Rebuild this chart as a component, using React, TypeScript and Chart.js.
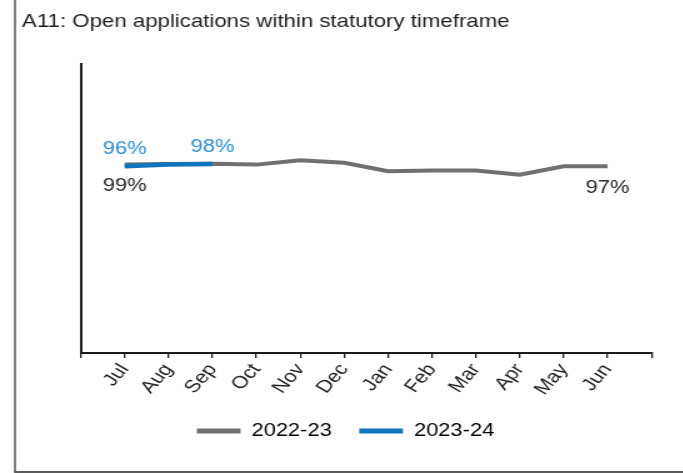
import React, { useEffect, useRef } from "react";
import { Chart, registerables } from "chart.js";

Chart.register(...registerables);

// ---- data ----
const TITLE = "A11: Open applications within statutory timeframe";
const MONTHS = ["Jul", "Aug", "Sep", "Oct", "Nov", "Dec", "Jan", "Feb", "Mar", "Apr", "May", "Jun"];
const SERIES_NAMES = ["2022-23", "2023-24"];
const VALUES_2022_23 = [97.9, 98.2, 98.4, 97.9, 100.2, 98.9, 94.5, 94.8, 94.8, 92.7, 97.0, 97.0];
const VALUES_2023_24 = [97.1, 97.9, 98.2];
const POINT_LABELS_2022_23 = ["99%", "", "", "", "", "", "", "", "", "", "", "97%"];
const POINT_LABELS_2023_24 = ["96%", "", "98%"];
const Y_MIN = 0;
const Y_MAX = 150;

// ---- styles ----
const FONT = "'Liberation Sans', Arial, sans-serif";
const GREY = "#707070";
const BLUE = "#0f75bd";
const TEXT = "#1e1e1e";
const AXIS = "#1c1c1c";
const STRETCH = 1.25;
const W = 546;
const H = 473;

const pad = (arr: (number | null)[]) => {
  const out: (number | null)[] = [null, ...arr];
  while (out.length < MONTHS.length + 1) out.push(null);
  out.push(null);
  return out;
};

const frame = {
  id: "frame",
  afterDraw(chart: any) {
    const ctx = chart.ctx;
    ctx.save();
    ctx.strokeStyle = "#5c5c5c";
    ctx.lineWidth = 1.6;
    ctx.beginPath();
    ctx.moveTo(12, 0);
    ctx.lineTo(12, 472);
    ctx.stroke();
    ctx.lineWidth = 2;
    ctx.beginPath();
    ctx.moveTo(11.2, 472);
    ctx.lineTo(W, 472);
    ctx.stroke();
    ctx.restore();
  },
};

const pointLabels = {
  id: "pointLabels",
  afterDatasetsDraw(chart: any) {
    const ctx = chart.ctx;
    ctx.save();
    ctx.font = `17.5px ${FONT}`;
    ctx.textAlign = "center";
    ctx.textBaseline = "middle";
    chart.data.datasets.forEach((ds: any, i: number) => {
      const meta = chart.getDatasetMeta(i);
      const texts: string[] = ds.pointTexts || [];
      meta.data.forEach((pt: any, j: number) => {
        const t = texts[j - 1];
        if (!t) return;
        ctx.fillStyle = ds.pointTextColor;
        ctx.fillText(t, pt.x, pt.y + ds.pointTextOffset);
      });
    });
    ctx.restore();
  },
};

const shiftLegend = {
  id: "shiftLegend",
  afterLayout(chart: any) {
    const lg = chart.legend;
    if (lg) {
      lg.left += 7;
      lg.right += 7;
    }
  },
};

export default function App() {
  const ref = useRef<HTMLCanvasElement | null>(null);
  useEffect(() => {
    if (!ref.current) return;
    const chart = new Chart(ref.current, {
      type: "line",
      data: {
        labels: ["", ...MONTHS, ""],
        datasets: [
          {
            label: SERIES_NAMES[0],
            data: pad(VALUES_2022_23),
            borderColor: GREY,
            backgroundColor: GREY,
            borderWidth: 4,
            pointRadius: 0,
            tension: 0,
            borderCapStyle: "butt",
            pointTexts: POINT_LABELS_2022_23,
            pointTextColor: "#262626",
            pointTextOffset: 21.5,
            order: 2,
          } as any,
          {
            label: SERIES_NAMES[1],
            data: pad(VALUES_2023_24),
            borderColor: BLUE,
            backgroundColor: BLUE,
            borderWidth: 4.5,
            pointRadius: 0,
            tension: 0,
            borderCapStyle: "butt",
            pointTexts: POINT_LABELS_2023_24,
            pointTextColor: "#2a8fd2",
            pointTextOffset: -16.5,
            order: 1,
          } as any,
        ],
      },
      options: {
        animation: false,
        responsive: false,
        devicePixelRatio: 1,
        layout: { padding: { left: 17.6, right: 24.8, top: 0, bottom: 23.25 } },
        plugins: {
          title: {
            display: true,
            text: TITLE,
            align: "start",
            color: TEXT,
            font: { family: FONT, size: 17.8, weight: "normal" },
            padding: { top: 11, bottom: 32 },
          },
          legend: {
            position: "bottom",
            labels: {
              font: { family: FONT, size: 17.5 },
              color: TEXT,
              boxWidth: 35,
              boxHeight: 5,
              padding: 22,
              generateLabels: (c: any) =>
                c.data.datasets.map((ds: any, i: number) => ({
                  text: ds.label,
                  fillStyle: ds.borderColor,
                  strokeStyle: ds.borderColor,
                  lineWidth: 0,
                  hidden: false,
                  datasetIndex: i,
                })),
            },
          },
          tooltip: { enabled: false },
        },
        scales: {
          x: {
            type: "category",
            offset: false,
            grid: {
              display: true,
              drawOnChartArea: false,
              drawTicks: true,
              tickLength: 5,
              tickColor: AXIS,
              lineWidth: 1.3,
              color: AXIS,
            },
            border: { display: true, color: AXIS, width: 2 },
            ticks: {
              autoSkip: false,
              maxRotation: 54,
              minRotation: 54,
              padding: 2,
              color: TEXT,
              font: { family: FONT, size: 17.5 },
            },
            afterFit: (s: any) => {
              s.height = 47.25;
            },
          },
          y: {
            min: Y_MIN,
            max: Y_MAX,
            grid: { display: false },
            border: { display: true, color: AXIS, width: 2 },
            ticks: { display: false },
            afterFit: (s: any) => {
              s.width = 47;
            },
          },
        },
      },
      plugins: [pointLabels, frame, shiftLegend],
    });
    return () => chart.destroy();
  }, []);

  return (
    <div style={{ position: "absolute", left: 0, top: 0, width: 683, height: 473, overflow: "hidden", background: "#fff" }}>
      <canvas
        ref={ref}
        width={W}
        height={H}
        style={{ display: "block", transform: `scaleX(${STRETCH})`, transformOrigin: "0 0" }}
      />
    </div>
  );
}
